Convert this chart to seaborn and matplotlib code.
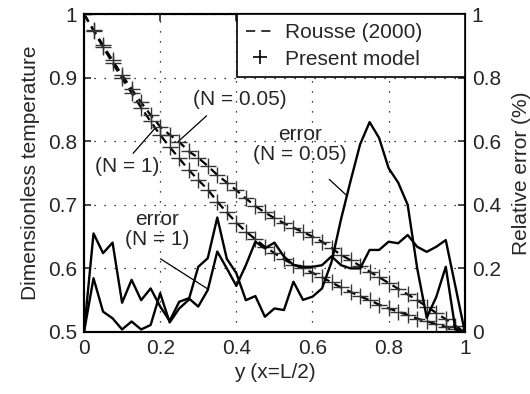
import numpy as np
import pandas as pd
import matplotlib
matplotlib.use("Agg")
import matplotlib.pyplot as plt
import seaborn as sns
from matplotlib.lines import Line2D
from matplotlib.patches import Rectangle
from matplotlib.ticker import FuncFormatter

# ------------------------------
# data
# ------------------------------
y_pos = [0.000, 0.025, 0.050, 0.075, 0.100, 0.125, 0.150, 0.175, 0.200, 0.225,
         0.250, 0.275, 0.300, 0.325, 0.350, 0.375, 0.400, 0.425, 0.450, 0.475,
         0.500, 0.525, 0.550, 0.575, 0.600, 0.625, 0.650, 0.675, 0.700, 0.725,
         0.750, 0.775, 0.800, 0.825, 0.850, 0.875, 0.900, 0.925, 0.950, 0.975,
         1.000]

# dimensionless temperature, N = 0.05
temp_n005 = [1.000, 0.975, 0.951, 0.927, 0.904, 0.882, 0.861, 0.841, 0.823, 0.810,
             0.799, 0.784, 0.774, 0.761, 0.747, 0.735, 0.723, 0.710, 0.698, 0.688,
             0.679, 0.671, 0.664, 0.657, 0.650, 0.642, 0.632, 0.621, 0.613, 0.604,
             0.595, 0.586, 0.577, 0.568, 0.559, 0.550, 0.540, 0.530, 0.520, 0.510,
             0.500]

# dimensionless temperature, N = 1
temp_n1 = [1.000, 0.974, 0.948, 0.923, 0.899, 0.876, 0.853, 0.831, 0.810, 0.791,
           0.773, 0.755, 0.739, 0.724, 0.705, 0.688, 0.672, 0.658, 0.646, 0.634,
           0.624, 0.614, 0.606, 0.600, 0.593, 0.586, 0.578, 0.570, 0.563, 0.556,
           0.550, 0.543, 0.537, 0.532, 0.527, 0.521, 0.517, 0.512, 0.508, 0.504,
           0.500]

# relative error (%), N = 1
err_n1 = [0.000, 0.310, 0.248, 0.281, 0.092, 0.164, 0.100, 0.137, 0.080, 0.035,
          0.095, 0.106, 0.080, 0.132, 0.253, 0.200, 0.145, 0.210, 0.284, 0.263,
          0.281, 0.237, 0.211, 0.205, 0.205, 0.210, 0.238, 0.210, 0.200, 0.200,
          0.258, 0.258, 0.284, 0.279, 0.305, 0.268, 0.252, 0.268, 0.289, 0.145,
          0.000]

# relative error (%), N = 0.05
err_n005 = [0.000, 0.169, 0.064, 0.043, 0.008, 0.033, 0.008, 0.022, 0.122, 0.030,
            0.074, 0.101, 0.205, 0.232, 0.360, 0.230, 0.185, 0.100, 0.113, 0.048,
            0.074, 0.069, 0.158, 0.101, 0.111, 0.137, 0.220, 0.355, 0.475, 0.590,
            0.660, 0.610, 0.515, 0.470, 0.400, 0.200, 0.045, 0.110, 0.205, 0.010,
            0.000]

df = pd.DataFrame({"y": y_pos, "t005": temp_n005, "t1": temp_n1,
                   "e1": err_n1, "e005": err_n005})

# ------------------------------
# style
# ------------------------------
sns.set_theme(style="white")
plt.rcParams['font.family'] = ['Liberation Sans', 'DejaVu Sans']
plt.rcParams['xtick.direction'] = 'in'
plt.rcParams['ytick.direction'] = 'in'

FS = 15
DASH = (0, (4, 2.5))

fig = plt.figure(figsize=(5.3, 3.94), dpi=100)
ax = fig.add_axes([0.1585, 0.1574, 0.7185, 0.807])
ax2 = ax.twinx()

# Rousse (2000) dashed + present model markers
for col in ["t005", "t1"]:
    sns.lineplot(data=df, x="y", y=col, ax=ax, color="black", linewidth=1.6,
                 linestyle=DASH)
    sns.scatterplot(data=df, x="y", y=col, ax=ax, marker="+", s=130,
                    color="#333333", linewidth=1.0, zorder=3)

# error curves on the right axis
for col in ["e1", "e005"]:
    sns.lineplot(data=df, x="y", y=col, ax=ax2, color="black", linewidth=1.7)

ax.set_xlim(0, 1)
ax.set_ylim(0.5, 1)
ax2.set_ylim(0, 1)
ax.set_xticks([0, 0.2, 0.4, 0.6, 0.8, 1])
ax.set_yticks([0.5, 0.6, 0.7, 0.8, 0.9, 1])
ax2.set_yticks([0, 0.2, 0.4, 0.6, 0.8, 1])
fmt = FuncFormatter(lambda v, p: f"{v:g}")
ax.xaxis.set_major_formatter(fmt)
ax.yaxis.set_major_formatter(fmt)
ax2.yaxis.set_major_formatter(fmt)

ax.tick_params(axis="both", labelsize=FS, length=5, width=1.2, top=True, pad=5)
ax2.tick_params(axis="y", labelsize=FS, length=5, width=1.2, pad=5)

ax.grid(True, linestyle=(0, (1, 7)), color="black", linewidth=0.9)
ax.set_axisbelow(True)

for a in (ax, ax2):
    for sp in a.spines.values():
        sp.set_color("black")
        sp.set_linewidth(1.5)

ax.set_xlabel("y (x=L/2)", fontsize=FS, labelpad=4)
ax.set_ylabel("Dimensionless temperature", fontsize=FS, labelpad=6)
ax2.set_ylabel("Relative error (%)", fontsize=FS, labelpad=8)

# annotations with pointer lines
ax.text(0.41, 0.865, "(N = 0.05)", fontsize=FS, ha="center", va="center")
ax.plot([0.322, 0.252], [0.840, 0.802], color="black", linewidth=0.9)
ax.text(0.114, 0.760, "(N = 1)", fontsize=FS, ha="center", va="center")
ax.plot([0.129, 0.186], [0.781, 0.820], color="black", linewidth=0.9)
ax.text(0.567, 0.795, "error\n(N = 0.05)", fontsize=FS, ha="center", va="center",
        linespacing=1.05)
ax.plot([0.644, 0.691], [0.740, 0.714], color="black", linewidth=0.9)
ax.text(0.193, 0.661, "error\n(N = 1)", fontsize=FS, ha="center", va="center",
        linespacing=1.05)
ax.plot([0.201, 0.324], [0.615, 0.568], color="black", linewidth=0.9)

# legend box (matlab style, wide frame)
ax2.add_patch(Rectangle((0.4016, 0.802), 0.5984, 0.198, transform=ax2.transAxes,
                        facecolor="white", edgecolor="black", linewidth=1.2,
                        zorder=5, clip_on=False))
handles = [Line2D([], [], color="black", linewidth=1.1, linestyle=(0, (6, 4))),
           Line2D([], [], color="black", marker="+", linestyle="none",
                  markersize=10, markeredgewidth=1.2)]
leg = ax2.legend(handles, ["Rousse (2000)", "Present model"], loc="upper left",
                 bbox_to_anchor=(0.4016, 1.0), fontsize=FS, frameon=False,
                 borderaxespad=0, borderpad=0.45, handlelength=1.3,
                 handletextpad=0.55, labelspacing=0.35)
leg.set_zorder(6)

fig.savefig("out.png", dpi=100)
